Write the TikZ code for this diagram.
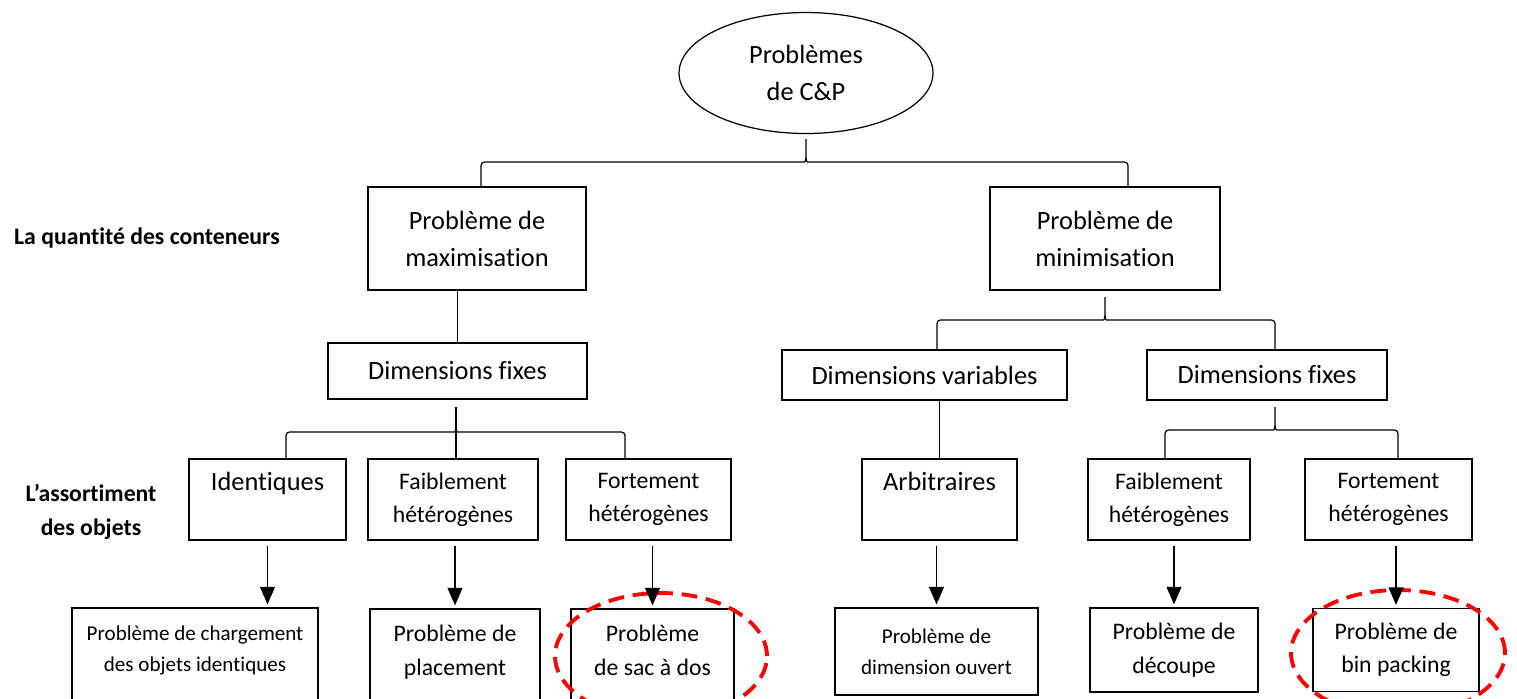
\documentclass[tikz,border=0pt]{standalone}
\usepackage{fontspec}
\setmainfont{Carlito}[Ligatures=NoCommon]
\usepackage{tikz}
\usetikzlibrary{shapes.geometric}
\usetikzlibrary{arrows.meta}

\tikzset{
    boite/.style={draw, line width=.7pt, align=center, inner sep=0pt},
    grand/.style={font=\fontsize{15}{21}\selectfont},
    moyen/.style={font=\fontsize{13.5}{19}\selectfont},
    petit/.style={font=\fontsize{12}{17.5}\selectfont},
    titre/.style={font=\bfseries\fontsize{13.5}{19.5}\selectfont, align=center},
    trait/.style={line width=.7pt},
    accol/.style={line width=.7pt, rounded corners=2pt},
    fleche/.style={line width=.7pt, -{Triangle[width=8.5pt,length=10pt]}, shorten <=.1cm, shorten >=.06cm},
    cercle/.style={draw=red, line width=2.2pt, dash pattern=on 9pt off 5pt}
}
\newcommand{\accolade}[3]{\draw[accol] (#1) |- ([shift={(-5,-25)}]#2) to[out=0,in=-90] ([shift={(0,-13)}]#2) -- (#2) -- ([shift={(0,-13)}]#2) to[out=-90,in=180] ([shift={(5,-25)}]#2) -| (#3);}

\begin{document}
\begin{tikzpicture}[x=.02cm, y=.02cm]
    \useasboundingbox (0,0) rectangle (1517,-698);
    \clip (0,0) rectangle (1517,-698);

    \node[boite, ellipse, grand, minimum width=5.08cm, minimum height=2.42cm] (cp) at (806,-73) {Problèmes\\de C\&P};
    \node[boite, grand, minimum width=4.36cm, minimum height=2.06cm] (maxi) at (477,-238.5) {Problème de\\maximisation};
    \node[boite, grand, minimum width=4.6cm, minimum height=2.06cm] (mini) at (1105,-238.5) {Problème de\\minimisation};
    \node[titre, anchor=west] (lq) at (8,-238) {La quantité des conteneurs};

    \node[boite, grand, minimum width=5.18cm, minimum height=1.12cm] (dfg) at (457.5,-371) {Dimensions fixes};
    \node[boite, grand, minimum width=5.7cm, minimum height=1cm] (dvar) at (924.5,-375) {Dimensions variables};
    \node[boite, grand, minimum width=4.8cm, minimum height=1cm] (dfd) at (1267,-375) {Dimensions fixes};

    \node[titre] (la) at (91,-512) {L’assortiment\\des objets};
    \node[boite, grand, minimum width=3.14cm, minimum height=1.62cm] (ident) at (267.5,-499.5) {Identiques\\\mbox{}};
    \node[boite, moyen, minimum width=3.4cm, minimum height=1.62cm] (faibg) at (453,-499.5) {Faiblement\\hétérogènes};
    \node[boite, moyen, minimum width=3.3cm, minimum height=1.62cm] (fortg) at (648.5,-499.5) {Fortement\\hétérogènes};
    \node[boite, grand, minimum width=3.1cm, minimum height=1.62cm] (arb) at (939.5,-499.5) {Arbitraires\\\mbox{}};
    \node[boite, moyen, minimum width=3.24cm, minimum height=1.62cm] (faibd) at (1169,-499.5) {Faiblement\\hétérogènes};
    \node[boite, moyen, minimum width=3.34cm, minimum height=1.62cm] (fortd) at (1388.5,-499.5) {Fortement\\hétérogènes};

    \node[boite, petit, minimum width=4.92cm, minimum height=2.24cm] (charg) at (195,-664) {Problème de chargement\\des objets identiques\\\mbox{}};
    \node[boite, moyen, minimum width=3.4cm, minimum height=2.32cm] (plac) at (455,-667) {Problème de\\placement\\\mbox{}};
    \node[boite, moyen, minimum width=3.26cm, minimum height=2.32cm] (sac) at (652.5,-667) {Problème\\de sac à dos\\\mbox{}};
    \node[boite, petit, minimum width=4.06cm, minimum height=1.74cm] (dimo) at (936.5,-651.5) {Problème de\\dimension ouvert};
    \node[boite, moyen, minimum width=3.36cm, minimum height=1.68cm] (dec) at (1174,-650) {Problème de\\découpe};
    \node[boite, moyen, minimum width=3.32cm, minimum height=1.66cm] (bin) at (1396,-650) {Problème de\\bin packing};

    \coordinate (t1) at (806,-137);
    \coordinate (t2) at (1105,-295);
    \coordinate (t3) at (456,-407);
    \coordinate (t4) at (1275,-405);
    \accolade{[xshift=.08cm]maxi.north}{t1}{[xshift=.46cm]mini.north}
    \accolade{[xshift=.25cm]dvar.north}{t2}{[xshift=.16cm]dfd.north}
    \accolade{[xshift=.37cm]ident.north}{t3}{[xshift=-.47cm]fortg.north}
    \accolade{[xshift=-.08cm]faibd.north}{t4}{[xshift=.19cm]fortd.north}
    \draw[trait] (t3) -- (t3 |- faibg.north);
    \draw[trait] (dfg.north) -- (dfg.north |- maxi.south);
    \draw[trait] (arb.north) -- (arb.north |- dvar.south);

    \draw[cercle] (661,-656) ellipse [x radius=2.12cm, y radius=1.26cm];
    \draw[cercle] (1398,-653) ellipse [x radius=2.14cm, y radius=1.26cm];

    \draw[fleche] (ident.south) -- (ident.south |- charg.north);
    \draw[fleche] (plac.north |- faibg.south) -- (plac.north);
    \draw[fleche] (sac.north |- fortg.south) -- (sac.north);
    \draw[fleche] (dimo.north |- arb.south) -- (dimo.north);
    \draw[fleche] (dec.north |- faibd.south) -- (dec.north);
    \draw[fleche] (bin.north |- fortd.south) -- (bin.north);
\end{tikzpicture}
\end{document}
